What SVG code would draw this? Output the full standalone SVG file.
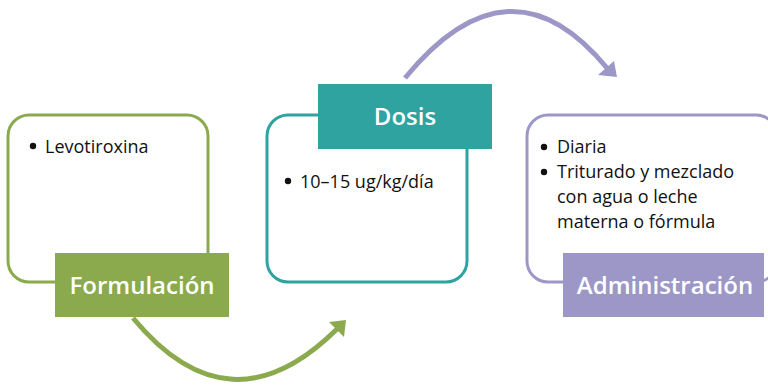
<svg xmlns="http://www.w3.org/2000/svg" width="768" height="385" viewBox="0 0 768 385">
<style>
.box{fill:#fff;stroke-width:3}
.lbl{font-family:"Open Sans","Noto Sans",sans-serif;font-weight:600;font-size:24px;fill:#fff;text-anchor:middle}
.txt{font-family:"Open Sans","Noto Sans",sans-serif;font-size:18px;fill:#111}
.arc{fill:none;stroke-width:5}
</style>
<rect width="768" height="385" fill="#fff"/>
<g id="connectors">
<path class="arc" stroke="#8BAA4E" d="M133,318 Q230,435 337,329"/>
<polygon fill="#8BAA4E" points="346,320 329,322 344,337"/>
<path class="arc" stroke="#9D97C8" d="M405,78 Q510,-50 607,68"/>
<polygon fill="#9D97C8" points="617,77 598,75 614,61"/>
</g>
<g id="formulacion">
<rect class="box" stroke="#8BAA4E" x="8" y="115" width="200" height="167" rx="21"/>
<circle cx="33" cy="146" r="3.2" fill="#111"/>
<text class="txt" x="45" y="153">Levotiroxina</text>
<rect x="55" y="253" width="174" height="64" fill="#8BAA4E"/>
<text class="lbl" x="142" y="294">Formulación</text>
</g>
<g id="dosis">
<rect class="box" stroke="#2EA39F" x="267" y="115" width="200" height="167" rx="21"/>
<circle cx="288" cy="181" r="3.2" fill="#111"/>
<text class="txt" x="300" y="188">10–15 ug/kg/día</text>
<rect x="318" y="84" width="174" height="65" fill="#2EA39F"/>
<text class="lbl" x="405" y="125">Dosis</text>
</g>
<g id="administracion">
<rect class="box" stroke="#9D97C8" x="527" y="115" width="250" height="167" rx="21"/>
<circle cx="544" cy="147" r="3.2" fill="#111"/>
<text class="txt" x="557" y="153">Diaria</text>
<circle cx="544" cy="172" r="3.2" fill="#111"/>
<text class="txt" x="557" y="178">Triturado y mezclado</text>
<text class="txt" x="557" y="203">con agua o leche</text>
<text class="txt" x="557" y="228">materna o fórmula</text>
<rect x="563" y="253" width="201" height="64" fill="#9D97C8"/>
<text class="lbl" x="665" y="294">Administración</text>
</g>
</svg>
